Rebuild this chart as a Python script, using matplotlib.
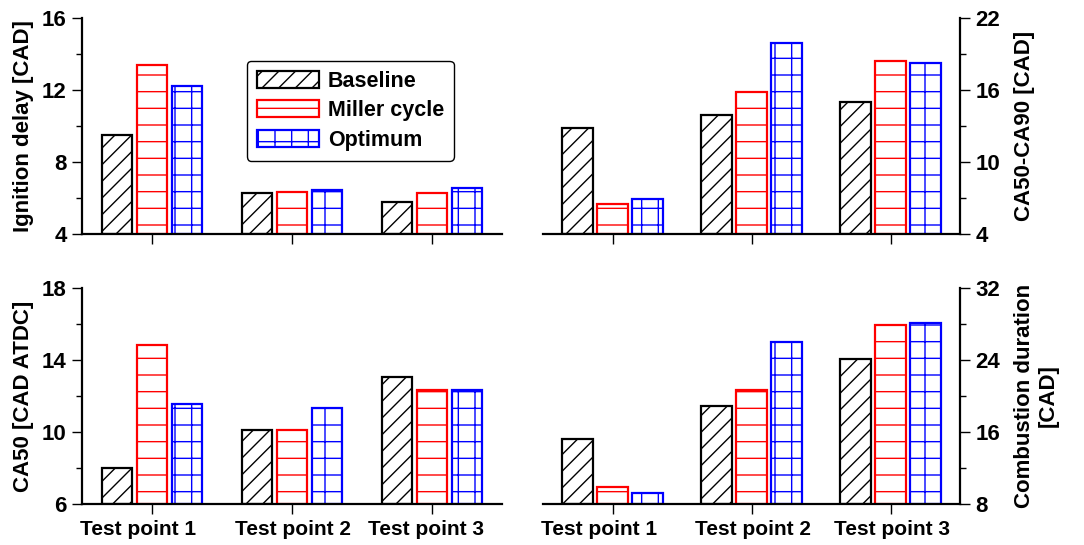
import matplotlib
matplotlib.use("Agg")
import matplotlib.pyplot as plt
import numpy as np

plt.rcParams['font.family'] = ['Liberation Sans', 'DejaVu Sans']
plt.rcParams['font.weight'] = 'bold'
plt.rcParams['hatch.linewidth'] = 1.0

points = ["Test point 1", "Test point 2", "Test point 3"]
cases = ["Baseline", "Miller cycle", "Optimum"]

# values
ign_delay = {"Baseline": [9.5, 6.3, 5.8],
             "Miller cycle": [13.37, 6.33, 6.3],
             "Optimum": [12.22, 6.46, 6.56]}
ca50_ca90 = {"Baseline": [12.83, 13.89, 15.03],
             "Miller cycle": [6.53, 15.86, 18.39],
             "Optimum": [6.94, 19.92, 18.28]}
ca50 = {"Baseline": [8.02, 10.09, 13.07],
        "Miller cycle": [14.85, 10.13, 12.33],
        "Optimum": [11.57, 11.33, 12.33]}
comb_dur = {"Baseline": [15.22, 18.93, 24.07],
            "Miller cycle": [9.85, 20.67, 27.93],
            "Optimum": [9.26, 26.0, 28.07]}

colors = {"Baseline": "black", "Miller cycle": "red", "Optimum": "blue"}
hatches = {"Baseline": "//", "Miller cycle": "-", "Optimum": "+"}

# the category labels are not quite centred under the ticks in the original
label_pos_left = [-0.10, 1.01, 1.96]
label_pos_right = [-0.10, 1.01, 2.01]

W, H = 1084, 545
fig = plt.figure(figsize=(W / 100, H / 100), dpi=100)


def px_axes(l, r, t, b):
    return fig.add_axes([l / W, 1 - b / H, (r - l) / W, (b - t) / H])


def panel(ax, data, ylim, major, ylabel, side, label_pos):
    x = np.arange(len(points))
    for i, c in enumerate(cases):
        ax.bar(x + (i - 1) * 0.25, np.array(data[c]) - ylim[0], 0.22,
               bottom=ylim[0], facecolor='white', edgecolor=colors[c],
               hatch=hatches[c], linewidth=1.6, label=c)
    ax.set_xlim(-0.5, 2.5)
    ax.set_ylim(*ylim)
    ax.set_yticks(np.arange(ylim[0], ylim[1] + 0.1, major))
    ax.set_yticks(np.arange(ylim[0], ylim[1] + 0.1, major / 2), minor=True)
    ax.spines['top'].set_visible(False)
    other = 'left' if side == 'right' else 'right'
    ax.spines[other].set_visible(False)
    for s in ('bottom', side):
        ax.spines[s].set_linewidth(1.6)
    if side == 'right':
        ax.yaxis.tick_right()
        ax.yaxis.set_label_position('right')
    ax.tick_params(axis='y', which='major', length=7, width=1.0,
                   labelsize=16, pad=4)
    ax.tick_params(axis='y', which='minor', length=4.5, width=1.0)
    ax.set_xticks(x, [])
    ax.tick_params(axis='x', which='major', length=7, width=1.0)
    if label_pos is not None:
        ax.set_xticks(label_pos, points, minor=True)
        ax.tick_params(axis='x', which='minor', length=0, labelsize=15,
                       pad=11.5)
    else:
        ax.set_xticks([], minor=True)
    for t in ax.get_xticklabels(minor=True) + ax.get_yticklabels():
        t.set_fontweight('bold')
    ax.set_ylabel(ylabel, fontsize=16, fontweight='bold',
                  labelpad=6 if side == 'left' else 10, linespacing=1.15)


ax1 = px_axes(82, 502, 18, 234)
ax2 = px_axes(543, 960, 18, 234)
ax3 = px_axes(82, 502, 288, 504)
ax4 = px_axes(543, 960, 288, 504)

panel(ax1, ign_delay, (4, 16), 4, "Ignition delay [CAD]", 'left', None)
panel(ax2, ca50_ca90, (4, 22), 6, "CA50-CA90 [CAD]", 'right', None)
panel(ax3, ca50, (6, 18), 4, "CA50 [CAD ATDC]", 'left', label_pos_left)
panel(ax4, comb_dur, (8, 32), 8, "Combustion duration\n[CAD]", 'right',
      label_pos_right)
ax4.yaxis.label.set_horizontalalignment('center')

leg = ax1.legend(loc='upper left', bbox_to_anchor=(0.393, 0.801),
                 prop={'size': 15.5, 'weight': 'bold'}, handlelength=2.9,
                 handleheight=0.85, labelspacing=0.4, handletextpad=0.4,
                 borderpad=0.45, borderaxespad=0, fancybox=True, framealpha=1,
                 edgecolor='black')
leg.get_frame().set_linewidth(1.0)

fig.savefig("out.png", dpi=100)
